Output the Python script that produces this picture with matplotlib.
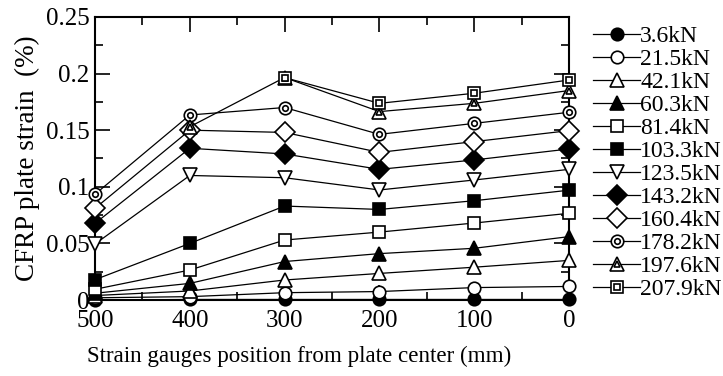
import matplotlib
matplotlib.use('Agg')
import matplotlib.pyplot as plt
import numpy as np
from matplotlib.ticker import MultipleLocator, FuncFormatter
from matplotlib.legend_handler import HandlerTuple

plt.rcParams['font.family'] = 'Liberation Serif'

positions = [500, 400, 300, 200, 100, 0]
loads = ['3.6kN', '21.5kN', '42.1kN', '60.3kN', '81.4kN', '103.3kN',
         '123.5kN', '143.2kN', '160.4kN', '178.2kN', '197.6kN', '207.9kN']

s_3_6 = [0.0, 0.0005, 0.0005, 0.0005, 0.0005, 0.0005]
s_21_5 = [0.002, 0.003, 0.0065, 0.0075, 0.011, 0.012]
s_42_1 = [0.004, 0.008, 0.0177, 0.0235, 0.029, 0.035]
s_60_3 = [0.006, 0.0147, 0.034, 0.041, 0.0457, 0.056]
s_81_4 = [0.0095, 0.0265, 0.053, 0.060, 0.068, 0.0766]
s_103_3 = [0.018, 0.050, 0.083, 0.080, 0.0877, 0.097]
s_123_5 = [0.0495, 0.110, 0.108, 0.0972, 0.106, 0.1154]
s_143_2 = [0.0677, 0.134, 0.129, 0.1154, 0.1237, 0.1334]
s_160_4 = [0.081, 0.150, 0.148, 0.1304, 0.1399, 0.1496]
s_178_2 = [0.0934, 0.1634, 0.170, 0.1463, 0.156, 0.1658]
s_197_6 = [np.nan, 0.153, 0.1965, 0.1664, 0.1737, 0.185]
s_207_9 = [np.nan, np.nan, 0.1964, 0.1737, 0.1826, 0.1943]

series = [s_3_6, s_21_5, s_42_1, s_60_3, s_81_4, s_103_3,
          s_123_5, s_143_2, s_160_4, s_178_2, s_197_6, s_207_9]

# (marker, size, face, inner marker, inner size)
styles = [('o', 9, 'k', None, 0), ('o', 9, 'w', None, 0), ('^', 10, 'w', None, 0),
          ('^', 10, 'k', None, 0), ('s', 9, 'w', None, 0), ('s', 9, 'k', None, 0),
          ('v', 10, 'w', None, 0), ('D', 10, 'k', None, 0), ('D', 10, 'w', None, 0),
          ('o', 9, 'w', 'o', 4), ('^', 10, 'w', '^', 5), ('s', 9, 'w', 's', 4.5)]

fig = plt.figure(figsize=(7.23, 3.76), dpi=100)
ax = fig.add_axes([0.1314, 0.202, 0.6556, 0.753])

handles = []
for vals, (m, ms, fc, im, ims) in zip(series, styles):
    ln, = ax.plot(positions, vals, color='k', lw=0.9, marker=m, ms=ms,
                  mfc=fc, mec='k', mew=1.2, clip_on=False, zorder=3)
    if im:
        inner, = ax.plot(positions, vals, ls='none', marker=im, ms=ims,
                         mfc='w', mec='k', mew=1.2, clip_on=False, zorder=4)
        handles.append((ln, inner))
    else:
        handles.append(ln)

ax.set_xlim(500, 0)
ax.set_ylim(0, 0.25)
ax.xaxis.set_major_locator(MultipleLocator(100))
ax.xaxis.set_minor_locator(MultipleLocator(50))
ax.yaxis.set_major_locator(MultipleLocator(0.05))
ax.yaxis.set_minor_locator(MultipleLocator(0.025))
ax.yaxis.set_major_formatter(FuncFormatter(lambda v, p: '%g' % round(v, 3)))
ax.tick_params(which='both', direction='in', top=True, right=True, labelsize=18,
               width=1.2)
ax.tick_params(axis='y', pad=4)
ax.tick_params(axis='x', pad=7)
ax.tick_params(which='major', length=11)
ax.tick_params(which='minor', length=6)
for sp in ax.spines.values():
    sp.set_linewidth(1.5)

ax.set_xlabel('Strain gauges position from plate center (mm)', fontsize=16.6)
ax.xaxis.set_label_coords(0.431, -0.163)
ax.set_ylabel('CFRP plate strain  (%)', fontsize=19.5, labelpad=4)

fig.legend(handles, loads, loc='upper left', bbox_to_anchor=(0.807, 0.958),
           frameon=False, fontsize=17, handlelength=2.0, handletextpad=0.0,
           labelspacing=0.065, borderaxespad=0,
           handler_map={tuple: HandlerTuple(ndivide=1)})

fig.savefig('out.png', dpi=100)
